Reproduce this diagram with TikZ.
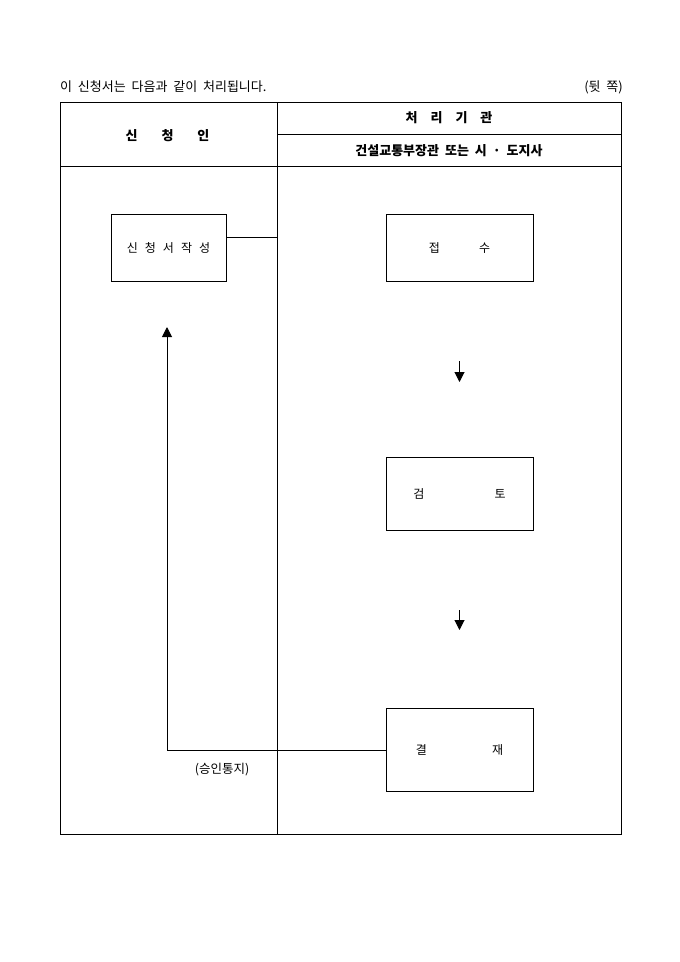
\documentclass[tikz,border=0pt]{standalone}
\usepackage{fontspec}
\setmainfont[WordSpace=2]{Noto Sans CJK KR}
\usetikzlibrary{arrows.meta,positioning,calc}

\tikzset{
    frame/.style={line width=1pt},
    procbox/.style={draw,line width=1pt,minimum width=147pt,inner sep=0pt,font=\fontsize{12}{14}\selectfont},
    head/.style={font=\bfseries\fontsize{13}{15}\selectfont},
    flowtip/.style={-{Triangle[width=10pt,length=10pt]},line width=1pt}
}

\begin{document}
\begin{tikzpicture}[x=1pt,y=-1pt,font=\fontsize{13}{15}\selectfont]
    \useasboundingbox (0,0) rectangle (680,962);

    % table
    \coordinate (tl) at (60,102);
    \coordinate (br) at (621,834);
    \coordinate (mt) at (277,102);
    \coordinate (mb) at (277,834);
    \draw[frame] (tl) rectangle (br);
    \draw[frame] (mt) -- (mb);
    \draw[frame] (277,134) -- (621,134);
    \draw[frame] (60,166) -- (621,166);

    \node[anchor=west,inner sep=0pt] (title) at (60,87) {이 신청서는 다음과 같이 처리됩니다.};
    \node[anchor=east,inner sep=0pt] (side) at (623,87) {(뒷 쪽)};
    \node[head] (appl) at (167.5,135.5) {신\hspace{24pt}청\hspace{24pt}인};
    \node[head] (office) at (449,118) {처\hspace{13pt}리\hspace{13pt}기\hspace{13pt}관};
    \node[head] (minister) at (449,151) {건설교통부장관 또는 시 · 도지사};

    % boxes
    \node[procbox,minimum width=115pt,minimum height=67pt] (write) at (168.5,248)
        {신\hspace{7pt}청\hspace{7pt}서\hspace{7pt}작\hspace{7pt}성};
    \node[procbox,minimum height=67pt] (recv) at (459.5,248) {접\hspace{39pt}수};
    \node[procbox,minimum height=73pt] (review) at (459.5,493.5) {검\hspace{70pt}토};
    \node[procbox,minimum height=83pt] (sign) at (459.5,750) {결\hspace{65pt}재};

    \coordinate (wj) at ($(write.north east)!0.34!(write.south east)$);
    \draw[frame] (wj) -- (wj -| mt);

    \coordinate (a1) at (459.5,361);
    \coordinate (b1) at (459.5,382);
    \draw[flowtip] (a1) -- (b1);
    \coordinate (a2) at (459.5,610);
    \coordinate (b2) at (459.5,630);
    \draw[flowtip] (a2) -- (b2);

    \coordinate (back) at (167,327);
    \draw[flowtip] (sign.west) -| (back);
    \node[font=\fontsize{12.5}{14}\selectfont] (notice) at (222,770) {(승인통지)};
\end{tikzpicture}
\end{document}
